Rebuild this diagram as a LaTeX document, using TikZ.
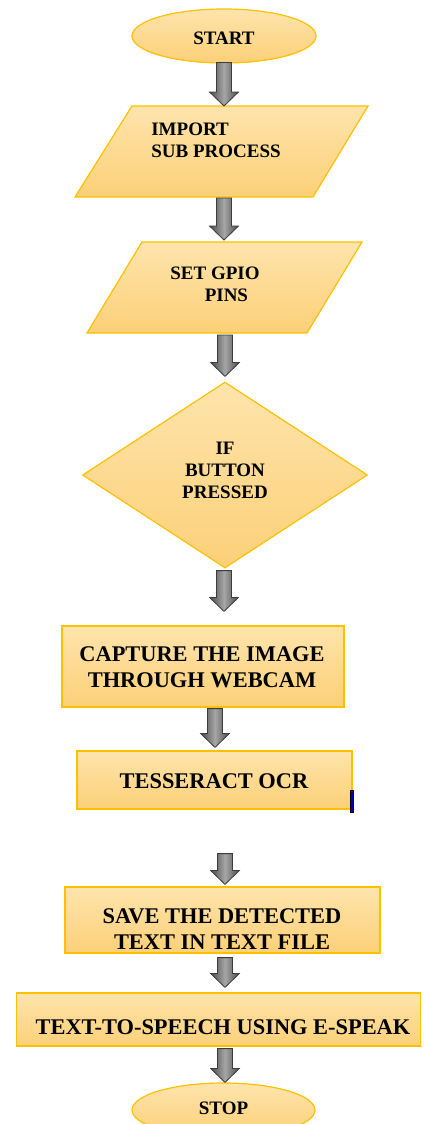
\documentclass[tikz,border=0pt]{standalone}
\usepackage{fontspec}
\setmainfont{Liberation Serif}
\usetikzlibrary{shapes.geometric,calc}
\definecolor{boxtop}{RGB}{254,228,172}
\definecolor{boxbot}{RGB}{252,208,120}
\definecolor{boxline}{RGB}{255,192,0}
\definecolor{arrfill}{RGB}{128,128,128}
\definecolor{arrline}{RGB}{60,60,60}
\tikzset{
  shapefill/.style={top color=boxtop,bottom color=boxbot,draw=boxline,line width=1.2pt},
  frame/.style={inner sep=0pt,outer sep=0pt,minimum width=#1},
  lbl/.style={font=\bfseries\fontsize{19}{22}\selectfont,align=center,inner sep=0pt},
  biglbl/.style={font=\bfseries\fontsize{22.4}{25.5}\selectfont,align=center,inner sep=0pt},
  arrowshade/.style={left color=arrline!80!arrfill,right color=arrline!80!arrfill,middle color=arrfill!70!white,draw=arrline,line width=0.8pt,line join=miter},
  blockarrow/.style={
    to path={let \p1=(\tikztostart), \p2=(\tikztotarget) in
      (\x1-7.5pt,\y1) -- (\x1+7.5pt,\y1) -- (\x1+7.5pt,\y2+14pt) -- (\x1+14.5pt,\y2+14pt)
      -- (\x1,\y2) -- (\x1-14.5pt,\y2+14pt) -- (\x1-7.5pt,\y2+14pt) -- cycle}}
}
\begin{document}
\begin{tikzpicture}[x=1pt,y=-1pt]
\useasboundingbox (0,0) rectangle (423,1124);
\begin{scope}
\clip (0,0) rectangle (423,1124);
% START
\node[ellipse,shapefill,minimum width=184,minimum height=54,inner sep=0pt] (start) at (224,36) {};
\node[lbl] (startt) at (224,38) {START};
% parallelogram 1
\node[frame=293,minimum height=91] (p1) at (221.5,151.5) {};
\path[shapefill] ($(p1.north west)+(57,0)$) -- (p1.north east) -- ($(p1.south east)+(-55,0)$) -- (p1.south west) -- cycle;
\node[lbl,align=left] (p1t) at (216,140) {IMPORT\\SUB PROCESS};
% parallelogram 2
\node[frame=275,minimum height=91] (p2) at (224.5,287.5) {};
\path[shapefill] ($(p2.north west)+(55,0)$) -- (p2.north east) -- ($(p2.south east)+(-55,0)$) -- (p2.south west) -- cycle;
\node[lbl] (p2t) at (215,284) {SET GPIO\\\hspace*{1.2em}PINS};
% diamond
\node[diamond,shapefill,minimum width=285,minimum height=186,inner sep=0pt] (dec) at (225,475) {};
\node[lbl] (dect) at (225,470) {IF\\BUTTON\\PRESSED};
% capture
\node[rectangle,shapefill,minimum width=282,minimum height=81,inner sep=0pt] (cap) at (203,666.5) {};
\node[biglbl] (capt) at (202,667) {CAPTURE THE IMAGE\\THROUGH WEBCAM};
% tesseract
\node[rectangle,shapefill,minimum width=275,minimum height=58,inner sep=0pt] (tes) at (214.5,780) {};
\node[biglbl] (test) at (214,781) {TESSERACT OCR};
\draw[draw=black,line width=0.6pt,fill=blue!75!black] (350.3,790) rectangle (353,812);
% save
\node[rectangle,shapefill,minimum width=315,minimum height=66,inner sep=0pt] (sav) at (222.5,920) {};
\node[biglbl] (savt) at (222,929) {SAVE THE DETECTED\\TEXT IN TEXT FILE};
% tts
\node[rectangle,shapefill,minimum width=404,minimum height=53,inner sep=0pt] (tts) at (218.5,1019.5) {};
\node[biglbl] (ttst) at (223,1027) {TEXT-TO-SPEECH USING E-SPEAK};
% stop
\node[ellipse,shapefill,minimum width=183,minimum height=54,inner sep=0pt] (stop) at (223.5,1110) {};
\node[lbl] (stopt) at (223.5,1108) {STOP};
% arrows
\path[arrowshade] ($(start.south)+(0,-1)$) to[blockarrow] (p1.north);
\path[arrowshade] ($(p1.south -| start.south)+(0,1)$) to[blockarrow] ($(p2.north)+(0,-2)$);
\path[arrowshade] ($(p2.south)+(0.5,2)$) to[blockarrow] ($(dec.north)+(0,-5)$);
\path[arrowshade] ($(dec.south)+(-1,2)$) to[blockarrow] ($(cap.north)+(0,-14)$);
\path[arrowshade] ($(cap.south)+(12,1)$) to[blockarrow] ($(tes.north)+(0,-3)$);
\path[arrowshade] ($(tes.south)+(10.5,44)$) to[blockarrow] ($(sav.north)+(0,-2)$);
\path[arrowshade] ($(sav.south)+(2.5,4)$) to[blockarrow] ($(tts.north)+(0,-5)$);
\path[arrowshade] ($(tts.south)+(6.5,2)$) to[blockarrow] (stop.north);
\end{scope}
\end{tikzpicture}
\end{document}
